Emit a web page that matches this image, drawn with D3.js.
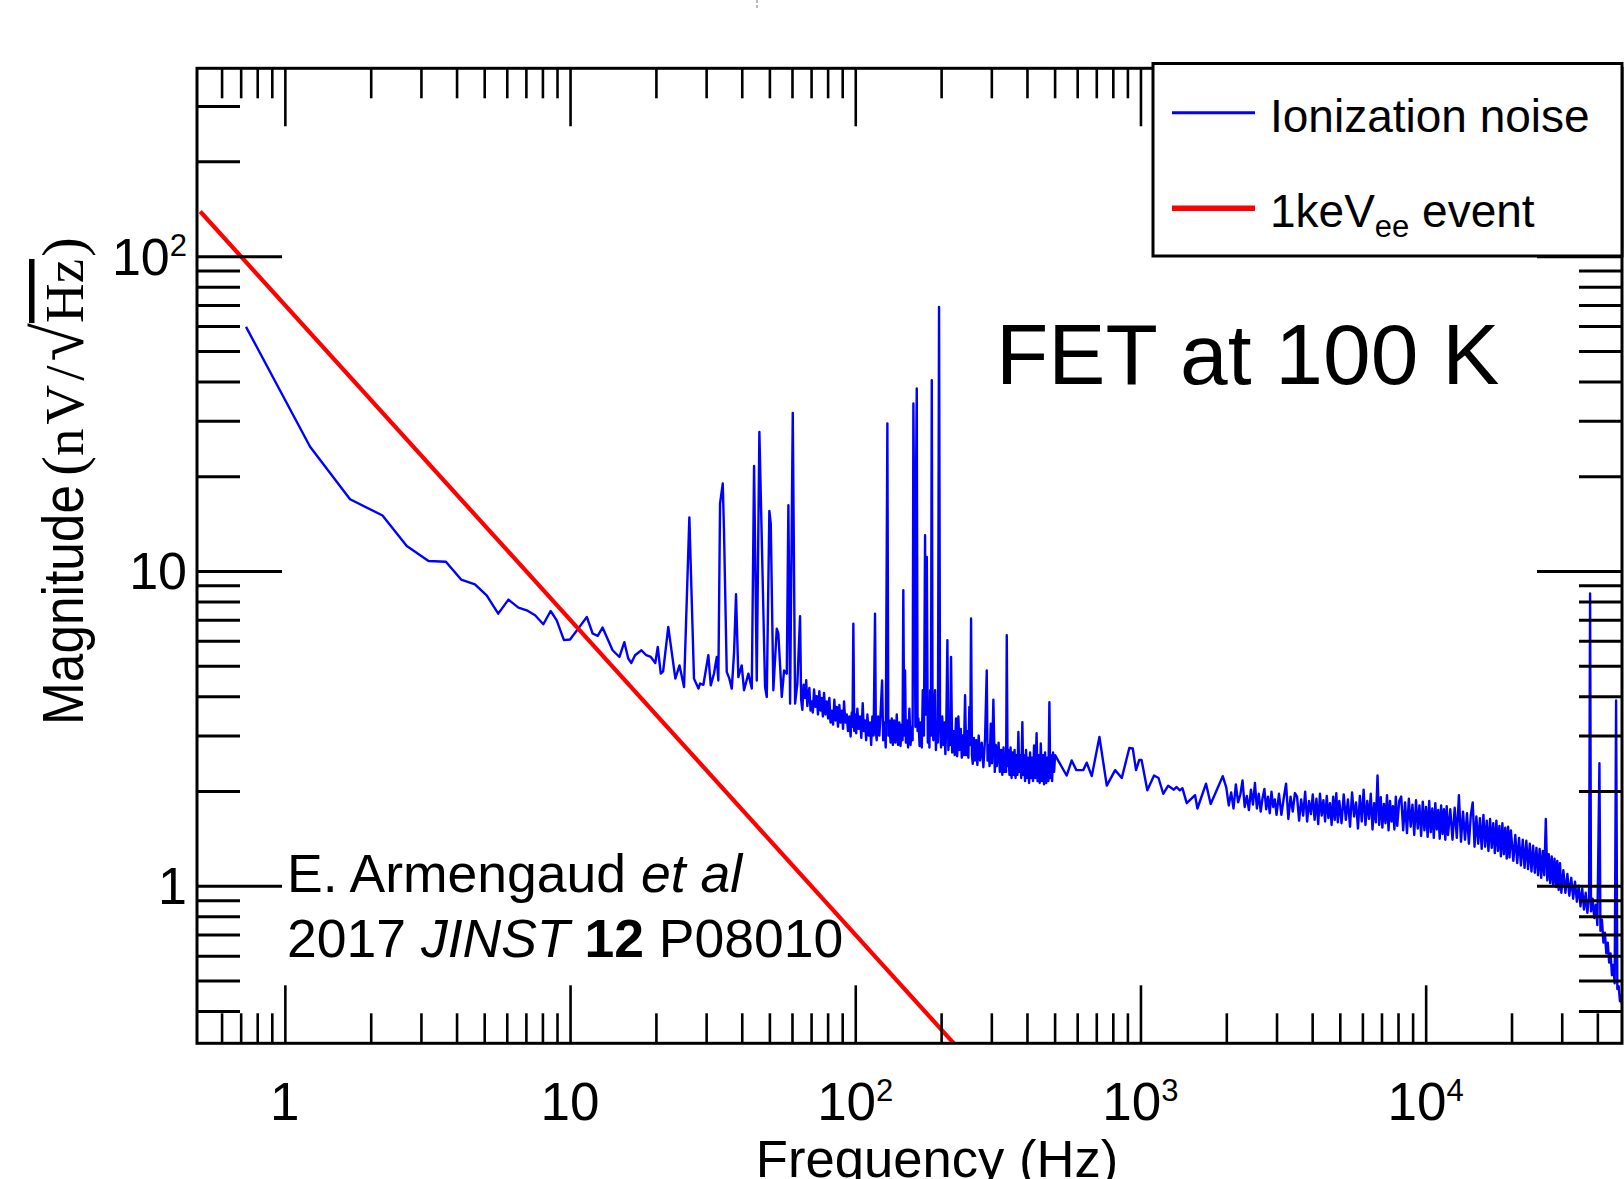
<!DOCTYPE html>
<html><head><meta charset="utf-8">
<script src="https://cdn.jsdelivr.net/npm/d3@7"></script>
<style>body{margin:0;background:#fff} svg{display:block}</style>
</head><body>
<svg id="chart" width="1624" height="1179"></svg>
<script>
// ---- DATA (frequency Hz, magnitude nV/sqrt(Hz)) ----
const noiseLow = [[0.731,59.6],[1.226,24.8],[1.693,16.9],[2.20,15.0],[2.676,12.0],[3.19,10.76],[3.67,10.7],[4.15,9.39],[4.64,9.07],[5.1,8.37],[5.6,7.32],[6.08,8.11],[6.59,7.65],[7.05,7.5],[7.54,7.23],[8.06,6.77],[8.55,7.46],[8.98,6.97],[9.52,6.03],[10.0,6.06],[10.7,6.57],[11.45,7.14],[12.0,6.33],[12.5,6.22],[13.0,6.61],[14.1,5.6],[14.9,5.33],[15.5,5.94],[16.0,5.27],[16.4,5.1],[16.9,5.4],[17.8,5.6],[18.5,5.4],[19.2,5.33],[19.9,5.1],[20.3,5.74],[20.8,4.72],[21.2,4.8],[22.1,6.64],[23.4,4.55],[24.2,5.01],[25.1,4.28],[26.2,14.8],[27.2,4.55],[28.2,4.23]];
const noisePeaks = [[28.56,4.39],[29.34,4.35],[30.54,5.40],[31.14,4.33],[31.98,4.73],[32.69,5.33],[33.11,4.49],[33.57,16.38],[34.31,18.95],[34.67,13.17],[35.43,4.78],[36.19,4.55],[36.90,4.23],[37.58,5.48],[38.19,8.43],[38.91,4.60],[39.99,5.01],[40.74,4.18],[42.19,4.72],[43.37,4.23],[44.18,21.57],[45.15,4.49],[46.11,27.65],[48.28,4.28],[48.95,3.98],[49.98,15.51],[50.55,14.14],[51.62,4.18],[53.06,6.56],[53.75,6.32],[55.25,3.98],[56.29,4.83],[57.53,4.72],[58.28,16.17],[59.09,3.79],[60.38,31.78],[61.52,3.79],[62.66,4.39],
[64.04,7.18],[64.6,3.9],[65.24,3.62],[65.9,4.35],[66.68,3.95],[67.3,4.5],[67.92,3.72],[68.5,4.05],[69.04,4.25],[69.7,3.6],[70.39,3.85],[71.0,3.55],[71.71,4.2],[72.5,3.7],[73.28,4.0],[74.0,3.5],[74.84,4.15],[75.6,3.6],[76.30,3.95],[77.0,3.45],[77.73,4.1],[78.6,3.5],[79.43,3.85],[80.3,3.4],[81.13,3.95],[81.9,3.3],[82.72,3.6],[83.6,3.25],[84.47,3.9],[85.3,3.35],[86.12,3.7],[87.0,3.2],[87.95,3.75],[88.9,3.3],[89.89,3.6],[90.6,3.15],[91.35,3.85],[92.3,3.3],[93.37,3.5],[94.3,3.1],[95.35,3.45],[96.3,2.98],[97.21,3.55],[97.8,3.2],[98.47,6.80],[99.2,3.1],[99.84,3.5],[100.8,3.05],[101.7,3.65],[102.8,3.15],[103.9,3.45],[105.0,2.95],[106.2,3.8],[107.2,3.1],[108.2,3.35],[109.2,2.9],[110.3,3.5],[111.5,3.0],[112.7,3.3],[113.7,2.8],[114.8,3.45],[116.0,3.0],[117.3,7.32],[118.1,3.1],[118.9,2.9],[120.2,3.45],[121.5,3.0],[122.8,3.6],[124.2,4.49],[125.3,2.9],[126.5,3.3],[127.9,2.75],[129.6,29.40],[130.6,3.0],[131.7,3.35],[133.0,2.85],[134.3,3.4],[135.5,2.8],[136.8,3.35],[138.3,2.85],[139.8,3.5],[141.3,2.8],[142.8,3.3],[144.1,2.78],[145.5,3.25],[146.5,2.9],[147.4,8.685],[148.5,3.0],[149.5,4.83],[150.5,2.85],[151.6,3.35],[153.2,2.75],[154.8,3.65],[156.3,2.8],[157.8,3.2],[158.9,2.9],[159.9,34.03],[161.5,9.0],[162.5,3.2],[163.4,20.0],[164.3,37.98],[165.4,3.1],[166.5,3.4],[168.1,2.78],[169.7,3.3],[171.1,2.75],[172.5,4.18],[174.1,3.0],[175.7,12.98],[177.0,3.5],[178.2,11.08],[179.6,2.85],[181.1,3.3],[182.0,2.75],[183.0,4.18],[184.2,3.0],[185.5,40.36],[186.7,3.2],[187.9,2.9],[189.2,3.5],[190.5,4.18],[191.8,2.7],[193.1,3.3],[194.9,2.85],[196.7,69.0],[198.3,3.2],[199.9,2.75],[201.8,3.45],[203.7,2.8],[205.3,3.3],[207.0,2.62],[208.7,3.4],[210.4,6.03],[212.1,2.7],[213.8,3.2],[215.2,2.8],[216.7,5.33],[218.7,2.65],[220.8,3.1],[223.2,2.6],[225.6,3.4],[227.7,2.58],[229.9,3.45],[232.1,2.7],[234.4,3.15],[236.3,2.55],[238.2,3.0],[240.4,2.6],[242.7,4.03],[244.9,2.6],[247.2,3.1],[249.2,2.55],[251.2,3.70],[253.0,2.8],[254.7,7.06],[256.5,2.6],[258.2,2.44],[260.6,2.95],[263.0,2.5],[265.5,2.9],[268.0,2.42],[270.9,3.0],[273.9,2.5],[277.6,2.85],[281.3,2.38],[285.2,2.95],[289.1,4.83],[291.0,2.5],[292.9,2.8],[295.8,2.4],[298.6,3.27],[301.5,2.45],[305.0,3.90],[308.5,2.30],[311.0,2.8],[313.5,2.4],[318.1,2.85],[321.4,2.3],[324.6,2.7],[327.8,2.25],[331.1,2.75],[333.5,2.3],[336.0,2.6],[338.0,2.3],[339.8,6.25],[342.0,2.4],[344.2,2.7],[347.3,2.25],[350.4,2.75],[353.2,2.2],[356.1,2.65],[359.0,2.25],[361.9,2.7],[364.8,2.2],[367.8,2.6],[370.5,2.25],[373.2,3.08],[375.7,2.3],[378.3,2.6],[381.8,2.2],[385.4,3.31],[388.1,2.25],[390.8,2.6],[393.9,2.15],[397.1,2.7],[400.3,2.2],[403.6,2.55],[406.9,2.12],[410.2,2.65],[413.5,2.2],[416.9,2.55],[420.2,2.15],[423.6,2.79],[428.0,2.2],[432.3,3.05],[435.8,2.15],[439.3,2.6],[443.2,2.12],[447.2,2.83],[451.4,2.15],[455.6,2.6],[459.3,2.1],[463.0,2.65],[467.3,2.12],[471.7,2.55],[475.5,2.15],[479.4,3.83],[482.7,2.2],[486.0,2.6],[490.0,2.15],[493.9,2.65],[498.0,2.3]];
const noiseMid = [[502.0,2.60],[551,2.24],[574,2.50],[596,2.33],[630,2.33],[648,2.46],[675,2.23],[718,2.97],[762,2.08],[815,2.33],[860,2.20],[914,2.74],[940,2.73],[965,2.33],[990,2.51],[1009,2.51],[1057,2.01],[1116,2.24],[1157,2.20],[1202,1.96],[1251,2.08],[1310,2.02],[1339,2.06],[1374,2.01],[1404,2.04],[1453,1.83],[1554,1.94],[1584,1.76],[1698,2.11],[1763,1.82],[1850,2.01],[1943,2.23]];
const noiseHigh = [[2000,2.05],[2040,1.80],[2080,1.98],[2120,1.76],[2160,2.10],[2200,1.84],[2240,1.95],[2280,2.16],[2320,1.78],[2360,1.93],[2400,1.74],[2440,2.02],[2480,1.81],[2520,2.12],[2560,1.76],[2600,1.96],[2640,1.72],[2680,1.90],[2720,2.03],[2760,1.75],[2800,1.92],[2840,1.70],[2880,1.99],[2920,1.78],[2960,1.88],[3000,1.68],
[3060,1.96],[3120,1.68],[3180,1.90],[3240,2.11],[3300,1.63],[3360,1.92],[3420,1.72],[3480,1.97],[3540,1.92],[3600,1.61],[3660,1.88],[3720,1.67],[3780,1.99],[3840,1.60],[3900,1.86],[3960,1.69],[4020,1.95],[4080,1.62],[4140,1.89],[4200,1.57],[4260,1.96],[4320,1.67],[4380,1.87],[4440,1.60],[4500,1.93],[4560,1.64],[4620,1.83],[4680,1.56],[4740,1.92],[4800,1.62],[4860,1.97],[4920,1.59],[4980,1.86],
[5070,1.58],[5160,1.95],[5250,1.62],[5340,1.88],[5430,1.54],[5520,1.98],[5610,1.66],[5700,1.84],[5790,1.52],[5880,1.93],[5970,1.60],[6060,2.02],[6150,1.56],[6240,1.86],[6330,1.63],[6420,1.96],[6510,1.51],[6600,1.83],[6690,1.59],[6780,2.24],[6870,1.56],[6960,1.91],[7050,1.53],[7140,1.82],[7230,1.58],[7320,1.94],[7410,1.50],[7500,1.86],[7590,1.60],[7680,1.79],[7770,1.51],[7860,1.92],[7950,1.55],
[8080,1.86],[8210,1.92],[8340,1.50],[8470,1.84],[8600,1.47],[8730,1.89],[8860,1.54],[8990,1.81],[9120,1.45],[9250,1.87],[9380,1.52],[9510,1.80],[9640,1.44],[9770,1.85],[9900,1.50],[10030,1.78],[10160,1.43],[10290,1.86],[10420,1.48],[10550,1.76],[10680,1.42],[10810,1.83],[10940,1.51],[11070,1.74],[11200,1.41],[11330,1.80],[11460,1.46],[11590,1.75],[11720,1.40],[11850,1.79],[11980,1.45],
[12200,1.75],[12420,1.40],[12640,1.77],[12860,1.42],[13080,1.94],[13300,1.38],[13520,1.72],[13740,1.40],[13960,1.70],[14180,1.36],[14400,1.68],[14620,1.84],[14840,1.33],[15060,1.66],[15280,1.36],[15500,1.64],[15720,1.31],[15940,1.68],[16160,1.33],[16380,1.61],[16600,1.29],[16820,1.63],[17040,1.32],[17260,1.58],[17480,1.27],[17700,1.61],[17920,1.29],[18140,1.55],[18360,1.24],[18580,1.58],[18800,1.26],[19020,1.53],[19240,1.22],[19460,1.54],[19680,1.23],[19900,1.50],
[20300,1.20],[20620,1.45],[20940,1.18],[21260,1.42],[21580,1.16],[21900,1.40],[22220,1.14],[22540,1.39],[22860,1.13],[23180,1.36],[23500,1.11],[23820,1.34],[24140,1.10],[24460,1.32],[24780,1.08],[25100,1.31],[25420,1.06],[25740,1.29],[26060,1.08],[26380,1.63],[26700,1.04],[27020,1.26],[27340,1.02],[27660,1.24],[27980,1.01],[28300,1.22],[28620,0.99],[28940,1.20],[29260,0.97],[29580,1.18],[29900,0.95],
[30400,1.12],[30900,0.95],[31400,1.09],[31900,0.93],[32400,1.06],[32900,0.91],[33400,1.03],[33900,0.89],[34400,1.00],[34900,0.86],[35400,0.98],[35900,0.84],[36400,0.95],[36900,0.82],[37400,0.92],[37720,8.48],[38000,0.83],[38500,0.91],[39000,0.79],[39500,0.87],[40000,0.75],[40670,2.45],[41000,0.72],[41500,0.78],[42000,0.66],[42500,0.71],[43000,0.61],[43500,0.66],[44000,0.57],[44500,0.61],[45000,0.52],[45500,0.56],[46000,0.49],[46530,3.88],[47000,0.47],[47500,0.48],[48000,0.43],[48500,0.45],[48800,0.42]];
const eventLine = [[0.505,138.6],[300,0.2333]];

const xMajor = [1, 10, 100, 1000, 10000];
const xMinor = [0.6,0.7,0.8,0.9,2,3,4,5,6,7,8,9,20,30,40,50,60,70,80,90,200,300,400,500,600,700,800,900,2000,3000,4000,5000,6000,7000,8000,9000,20000,30000,40000];
const yMajor = [1, 10, 100];
const yMinor = [0.4,0.5,0.6,0.7,0.8,0.9,2,3,4,5,6,7,8,9,20,30,40,50,60,70,80,90,200,300];
const xTickLabels = [["1",""],["10",""],["10","2"],["10","3"],["10","4"]];
const yTickLabels = [["1",""],["10",""],["10","2"]];
const seriesNames = ["Ionization noise", "1keV"];

// ---- LAYOUT ----
const W = 1624, H = 1179;
const L = 197, R = 1622, T = 68.3, B = 1043.3;
const SANS = "'Liberation Sans', Arial, sans-serif";
const SERIF = "'Liberation Serif', 'Times New Roman', serif";

const x = d3.scaleLog().domain([0.492, 48800]).range([L, R]);
const y = d3.scaleLog().domain([0.316, 395]).range([B, T]);

const svg = d3.select("#chart");
svg.append("rect").attr("width", W).attr("height", H).attr("fill", "#fff");
svg.append("defs").append("clipPath").attr("id", "plot")
  .append("rect").attr("x", L).attr("y", T).attr("width", R - L).attr("height", B - T);

// tiny artifact at top
svg.append("line").attr("x1", 757).attr("x2", 757).attr("y1", 0).attr("y2", 10)
  .attr("stroke", "#777").attr("stroke-width", 1).attr("stroke-dasharray", "3,2");

const line = d3.line().x(d => x(d[0])).y(d => y(d[1]));
const noise = noiseLow.concat(noisePeaks, noiseMid, noiseHigh);

svg.append("path").datum(noise).attr("clip-path", "url(#plot)")
  .attr("d", line).attr("fill", "none").attr("stroke", "#0000ff")
  .attr("stroke-width", 2.4).attr("stroke-linejoin", "round");
svg.append("path").datum(eventLine).attr("clip-path", "url(#plot)")
  .attr("d", line).attr("fill", "none").attr("stroke", "#ff0000")
  .attr("stroke-width", 4.2);

// ---- TICKS on all four sides ----
function drawTicks(axis, tx, ty, vals, size, sw) {
  const g = svg.append("g").attr("transform", `translate(${tx},${ty})`)
    .call(axis.tickValues(vals).tickSize(-size).tickSizeOuter(0).tickFormat(""));
  g.select(".domain").remove();
  g.selectAll(".tick line").attr("stroke", "#000").attr("stroke-width", sw);
}
drawTicks(d3.axisBottom(x), 0, B, xMajor, 58, 2.6);
drawTicks(d3.axisBottom(x), 0, B, xMinor, 30, 2.6);
drawTicks(d3.axisTop(x), 0, T, xMajor, 58, 2.6);
drawTicks(d3.axisTop(x), 0, T, xMinor, 30, 2.6);
drawTicks(d3.axisLeft(y), L, 0, yMajor, 85, 3);
drawTicks(d3.axisLeft(y), L, 0, yMinor, 43, 3);
drawTicks(d3.axisRight(y), R, 0, yMajor, 85, 3);
drawTicks(d3.axisRight(y), R, 0, yMinor, 43, 3);

svg.append("rect").attr("x", L).attr("y", T).attr("width", R - L).attr("height", B - T)
  .attr("fill", "none").attr("stroke", "#000").attr("stroke-width", 3);

// ---- TICK LABELS ----
xMajor.forEach((v, i) => {
  const t = svg.append("text").attr("x", x(v)).attr("y", 1120)
    .attr("text-anchor", "middle").attr("font-family", SANS).attr("font-size", 53);
  t.append("tspan").text(xTickLabels[i][0]);
  if (xTickLabels[i][1]) t.append("tspan").attr("font-size", 31).attr("dy", -19).text(xTickLabels[i][1]);
});
yMajor.forEach((v, i) => {
  const t = svg.append("text").attr("x", 187).attr("y", y(v) + 18.5)
    .attr("text-anchor", "end").attr("font-family", SANS).attr("font-size", 52);
  t.append("tspan").text(yTickLabels[i][0]);
  if (yTickLabels[i][1]) t.append("tspan").attr("font-size", 31).attr("dy", -19).text(yTickLabels[i][1]);
});

// ---- AXIS TITLES ----
svg.append("text").attr("x", 937).attr("y", 1177).attr("text-anchor", "middle")
  .attr("font-family", SANS).attr("font-size", 52.6).text("Frequency (Hz)");

const magLen = 240, yBase = 83, yStart = 725;
svg.append("text").attr("transform", `translate(${yBase},${yStart}) rotate(-90)`)
  .attr("font-family", SANS).attr("font-size", 58)
  .attr("textLength", magLen).attr("lengthAdjust", "spacingAndGlyphs").text("Magnitude");
const yl = svg.append("text").attr("transform", `translate(${yBase},${yStart - magLen - 9}) rotate(-90)`)
  .attr("font-family", SERIF).attr("font-size", 55);
yl.append("tspan").attr("font-size", 60).text("(");
yl.append("tspan").attr("letter-spacing", 4).text("nV/");
yl.append("tspan").attr("font-size", 70).text("\u221A");
yl.append("tspan").style("text-decoration", "overline").text("Hz");
yl.append("tspan").attr("font-size", 60).attr("dx", 2).text(")");

// ---- ANNOTATIONS ----
svg.append("text").attr("x", 996).attr("y", 384).attr("font-family", SANS)
  .attr("font-size", 85.7).text("FET at 100 K");

const a1 = svg.append("text").attr("x", 287).attr("y", 891.7).attr("font-family", SANS).attr("font-size", 53.5);
a1.append("tspan").text("E. Armengaud ");
a1.append("tspan").attr("font-style", "italic").text("et al");
const a2 = svg.append("text").attr("x", 287).attr("y", 956.7).attr("font-family", SANS).attr("font-size", 53.5);
a2.append("tspan").text("2017 ");
a2.append("tspan").attr("font-style", "italic").text("JINST");
a2.append("tspan").text(" ");
a2.append("tspan").attr("font-weight", "bold").text("12");
a2.append("tspan").text(" P08010");

// ---- LEGEND ----
svg.append("rect").attr("x", 1153).attr("y", 63.5).attr("width", 469).attr("height", 192.5)
  .attr("fill", "#fff").attr("stroke", "#000").attr("stroke-width", 3);
svg.append("line").attr("x1", 1172).attr("x2", 1255).attr("y1", 112.7).attr("y2", 112.7)
  .attr("stroke", "#0000ff").attr("stroke-width", 3);
svg.append("line").attr("x1", 1172).attr("x2", 1255).attr("y1", 208.3).attr("y2", 208.3)
  .attr("stroke", "#ff0000").attr("stroke-width", 5.5);
svg.append("text").attr("x", 1270).attr("y", 131.7).attr("font-family", SANS)
  .attr("font-size", 46).text(seriesNames[0]);
const l2 = svg.append("text").attr("x", 1270).attr("y", 226.7).attr("font-family", SANS).attr("font-size", 46);
l2.append("tspan").text(seriesNames[1]);
l2.append("tspan").attr("font-size", 31).attr("dy", 10).text("ee");
l2.append("tspan").attr("dy", -10).text(" event");
</script>
</body></html>
